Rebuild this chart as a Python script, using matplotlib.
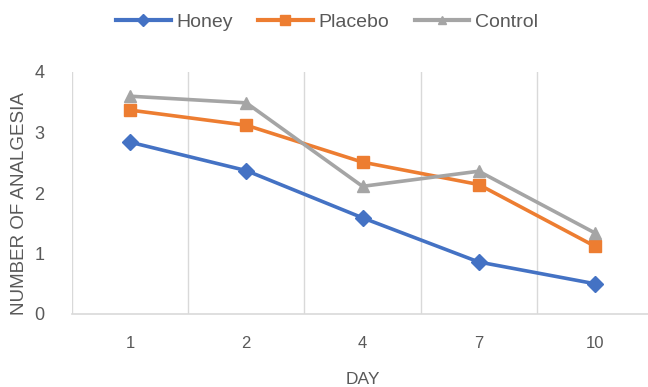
import matplotlib.pyplot as plt
from matplotlib.lines import Line2D
import numpy as np

plt.rcParams['font.family'] = ['Liberation Sans', 'DejaVu Sans']

# data
days = ["1", "2", "4", "7", "10"]
honey = [2.84, 2.37, 1.59, 0.86, 0.50]
placebo = [3.37, 3.12, 2.51, 2.14, 1.12]
control = [3.60, 3.49, 2.11, 2.36, 1.34]

TXT = "#595959"
GRID = "#d9d9d9"
COLORS = {"Honey": "#4472C4", "Placebo": "#ED7D31", "Control": "#A5A5A5"}
MARKERS = {"Honey": "D", "Placebo": "s", "Control": "^"}

fig = plt.figure(figsize=(6.48, 3.87), dpi=100)
ax = fig.add_axes([72 / 648, 73 / 387, 581 / 648, 242 / 387])

x = np.arange(len(days))
ax.plot(x, honey, color=COLORS["Honey"], lw=2.6, marker="D", ms=8)
ax.plot(x, placebo, color=COLORS["Placebo"], lw=2.6, marker="s", ms=8)
ax.plot(x, control, color=COLORS["Control"], lw=2.6, marker="^", ms=9)

ax.set_xlim(-0.5, len(days) - 0.5)
ax.set_ylim(0, 4)
ax.set_xticks(x)
ax.set_xticklabels(days)
ax.set_yticks([0, 1, 2, 3, 4])
ax.set_xticks(np.arange(len(days) + 1) - 0.5, minor=True)
ax.grid(True, which="minor", axis="x", color=GRID, lw=1)
ax.tick_params(which="both", length=0)
ax.tick_params(axis="x", pad=16, labelsize=12, labelcolor=TXT)
ax.tick_params(axis="y", pad=20, labelsize=13, labelcolor=TXT)

for s in ["top", "right", "left"]:
    ax.spines[s].set_visible(False)
ax.spines["bottom"].set_color(GRID)
ax.spines["bottom"].set_linewidth(1.2)

ax.set_xlabel("DAY", fontsize=12.5, color=TXT, labelpad=15)
ax.set_ylabel("NUMBER OF ANALGESIA", fontsize=13.5, color=TXT)
ax.yaxis.set_label_coords(-0.076, 0.455)

# legend with small markers like Excel
handles = [Line2D([], [], color=COLORS[k], lw=3, marker=MARKERS[k],
                  ms=6 if k != "Placebo" else 7) for k in COLORS]
fig.legend(handles, list(COLORS), loc="center",
           bbox_to_anchor=(327 / 648, 1 - 22 / 387), ncol=3,
           frameon=False, fontsize=14, handlelength=2.8, handletextpad=0.3,
           columnspacing=1.3, labelcolor=TXT)

fig.savefig("out.png", dpi=100)
